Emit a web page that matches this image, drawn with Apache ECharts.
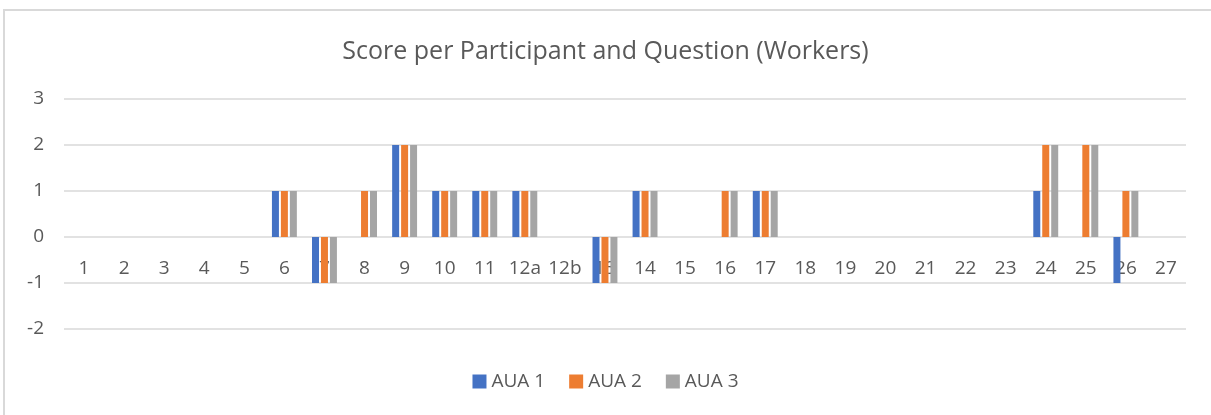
<!DOCTYPE html>
<html>
<head>
<meta charset="utf-8">
<script src="https://cdn.jsdelivr.net/npm/echarts@6/dist/echarts.min.js"></script>
<style>html,body{margin:0;padding:0;background:#fff;}#c{width:1211px;height:415px;}</style>
</head>
<body>
<div id="c"></div>
<script>
const categories = ['1','2','3','4','5','6','7','8','9','10','11','12a','12b','13','14','15','16','17','18','19','20','21','22','23','24','25','26','27'];
const aua1 = [0,0,0,0,0,1,-1,0,2,1,1,1,0,-1,1,0,0,1,0,0,0,0,0,0,1,0,-1,0];
const aua2 = [0,0,0,0,0,1,-1,1,2,1,1,1,0,-1,1,0,1,1,0,0,0,0,0,0,2,2,1,0];
const aua3 = [0,0,0,0,0,1,-1,1,2,1,1,1,0,-1,1,0,1,1,0,0,0,0,0,0,2,2,1,0];
const yTicks = [-2,-1,0,1,2,3];
const seriesNames = ['AUA 1','AUA 2','AUA 3'];
const colors = ['#4472C4','#ED7D31','#A5A5A5'];

const chart = echarts.init(document.getElementById('c'), null, {renderer:'canvas'});
const font = '"Open Sans", "Noto Sans", sans-serif';
const mk = (name, data, i) => ({
  name, type:'bar', data, barWidth:7, barGap:'28%', z:5,
  itemStyle:{color:colors[i]}
});
chart.setOption({
  animation:false,
  color:colors,
  graphic:[{type:'rect', shape:{x:4,y:10,width:1400,height:600}, style:{fill:'none', stroke:'#d9d9d9', lineWidth:2}, silent:true}],
  title:{text:'Score per Participant and Question (Workers)', left:'center', top:34,
    textStyle:{fontFamily:font, fontSize:25, fontWeight:'normal', color:'#595959'}},
  legend:{data:seriesNames, bottom:19, left:'center', itemWidth:14, itemHeight:14, itemGap:24, icon:'rect',
    textStyle:{fontFamily:font, fontSize:19, color:'#595959'}},
  grid:{left:64, right:25, top:99, bottom:86, containLabel:false},
  xAxis:{type:'category', data:categories, offset:-92, z:0,
    axisLine:{show:false, onZero:false},
    axisTick:{show:false},
    axisLabel:{interval:0, margin:22, fontFamily:font, fontSize:19, color:'#595959'},
    splitLine:{show:false}},
  yAxis:{type:'value', min:yTicks[0], max:yTicks[yTicks.length-1], interval:1,
    axisLine:{show:false}, axisTick:{show:false},
    axisLabel:{margin:20, fontFamily:font, fontSize:19, color:'#595959'},
    splitLine:{lineStyle:{color:'#d9d9d9', width:1.5}}},
  series:[mk(seriesNames[0],aua1,0), mk(seriesNames[1],aua2,1), mk(seriesNames[2],aua3,2)]
});
</script>
</body>
</html>
